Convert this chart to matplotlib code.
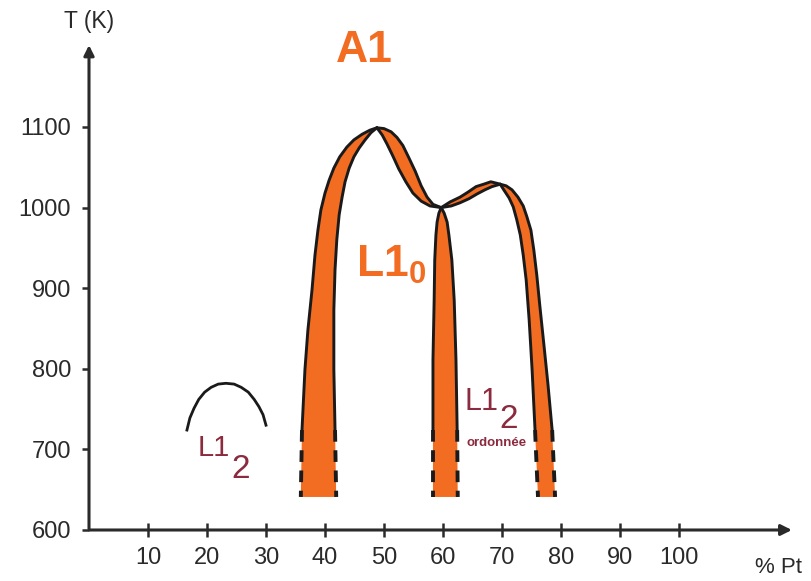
#!/usr/bin/env python3
"""
Order-disorder phase diagram sketch (T vs % Pt).
"""

import numpy as np
import matplotlib
matplotlib.use('Agg')
import matplotlib.pyplot as plt

# --- data (x = % Pt, T in K) ---
x_ticks = [10, 20, 30, 40, 50, 60, 70, 80, 90, 100]
y_ticks = [600, 700, 800, 900, 1000, 1100]

# left band, from the 1100 K maximum down
left_outer_x = [48.8, 47.6, 46.3, 44.9, 43.7, 42.5, 41.5, 40.7, 40.0, 39.3, 38.8, 38.3, 37.8, 37.1, 36.6, 36.1, 35.9]
left_outer_T = [1099, 1096, 1091, 1084, 1075, 1063, 1049, 1034, 1018, 997, 972, 941, 898, 848, 799, 724, 641]
left_inner_x = [48.8, 47.8, 46.8, 45.8, 44.9, 44.1, 43.4, 42.9, 42.4, 42.0, 41.7, 41.5, 41.5, 41.7, 41.9]
left_inner_T = [1099, 1093, 1084, 1074, 1063, 1049, 1032, 1013, 991, 960, 923, 873, 799, 724, 641]

# lens between the 1100 K maximum and the 1000 K junction
lens1_upper_x = [48.8, 50.0, 51.2, 52.2, 53.2, 54.2, 55.3, 56.3, 57.3, 58.3, 59.7]
lens1_upper_T = [1099, 1098, 1094, 1087, 1077, 1062, 1045, 1027, 1013, 1004, 1000]
lens1_lower_x = [48.8, 49.7, 50.5, 51.5, 52.5, 53.7, 54.9, 56.3, 57.8, 59.7]
lens1_lower_T = [1099, 1090, 1079, 1064, 1048, 1032, 1018, 1008, 1002, 1000]

# middle band below the junction
mid_T = [1000, 993, 982, 966, 935, 885, 811, 724, 641]
mid_left_x = [59.7, 59.3, 59.0, 58.8, 58.6, 58.5, 58.3, 58.3, 58.3]
mid_right_x = [59.7, 60.2, 60.7, 61.0, 61.5, 61.9, 62.2, 62.4, 62.5]

# lens between the junction and the second maximum
lens2_upper_x = [59.7, 61.2, 62.9, 64.2, 65.6, 66.9, 68.1, 69.2, 69.7]
lens2_upper_T = [1000, 1007, 1013, 1019, 1026, 1029, 1032, 1030, 1029]
lens2_lower_x = [59.7, 61.4, 62.9, 64.4, 65.8, 67.1, 68.3, 69.7]
lens2_lower_T = [1000, 1002, 1006, 1011, 1017, 1022, 1026, 1029]

# right band, from the second maximum down
right_outer_x = [69.7, 70.7, 71.7, 72.7, 73.6, 74.2, 74.9, 75.4, 75.9, 76.4, 77.1, 77.8, 78.5, 79.0]
right_outer_T = [1029, 1027, 1022, 1013, 1002, 989, 972, 947, 916, 879, 830, 780, 724, 641]
right_inner_x = [69.7, 70.3, 71.2, 71.9, 72.5, 73.1, 73.6, 74.1, 74.6, 75.1, 75.6, 76.1]
right_inner_T = [1029, 1022, 1012, 1001, 985, 966, 941, 910, 861, 799, 724, 641]

# small L1_2 dome on the Fe-rich side
dome_x = [16.6, 17.1, 17.8, 18.6, 19.6, 20.7, 21.9, 23.2, 24.6, 25.8, 27.0, 28.0, 28.8, 29.5, 30.0]
dome_T = [724, 739, 751, 762, 771, 777, 781, 782, 781, 777, 771, 762, 753, 743, 730]

SOLID_FROM = 724  # band edges are dashed below this temperature

ORANGE = '#F26C22'
MAROON = '#8C2A3E'
INK = '#1a1a1a'
AXIS = '#2a2a2a'

plt.rcParams['font.family'] = ['Liberation Sans', 'DejaVu Sans']
plt.rcParams['mathtext.default'] = 'regular'

fig = plt.figure(figsize=(8.12, 5.81), dpi=100)
ax = fig.add_axes([89 / 812, 51 / 581, 708 / 812, 491.7 / 581])
ax.set_xlim(0, 120)
ax.set_ylim(600, 1210)


def patch(ax_, xa, ta, xb, tb):
    """Orange area enclosed by two curves that share their first point."""
    xs = np.concatenate([xa, xb[::-1]])
    ts = np.concatenate([ta, tb[::-1]])
    ax_.fill(xs, ts, color=ORANGE, lw=0, zorder=2)


def edge(ax_, xs, ts):
    """Black edge: solid above SOLID_FROM, dashed below."""
    xs = np.asarray(xs)
    ts = np.asarray(ts)
    top = ts >= SOLID_FROM
    low = ts <= SOLID_FROM
    ax_.plot(xs[top], ts[top], color=INK, lw=2.1, solid_joinstyle='round',
             solid_capstyle='round', zorder=3)
    ax_.plot(xs[low], ts[low], color=INK, lw=2.8, linestyle=(0, (3.0, 2.2)), zorder=3)


patch(ax, left_outer_x, left_outer_T, left_inner_x, left_inner_T)
patch(ax, lens1_upper_x, lens1_upper_T, lens1_lower_x, lens1_lower_T)
patch(ax, mid_left_x, mid_T, mid_right_x, mid_T)
patch(ax, lens2_upper_x, lens2_upper_T, lens2_lower_x, lens2_lower_T)
patch(ax, right_outer_x, right_outer_T, right_inner_x, right_inner_T)

for xs, ts in [(left_outer_x, left_outer_T), (left_inner_x, left_inner_T),
               (lens1_upper_x, lens1_upper_T), (lens1_lower_x, lens1_lower_T),
               (mid_left_x, mid_T), (mid_right_x, mid_T),
               (lens2_upper_x, lens2_upper_T), (lens2_lower_x, lens2_lower_T),
               (right_outer_x, right_outer_T), (right_inner_x, right_inner_T)]:
    edge(ax, xs, ts)

ax.plot(dome_x, dome_T, color=INK, lw=2.0, solid_joinstyle='round', zorder=3)

# axes drawn as arrows
for s in ax.spines.values():
    s.set_visible(False)
ax.annotate('', xy=(119.6, 600), xytext=(-0.4, 600),
            arrowprops=dict(arrowstyle='-|>', lw=2.2, color=AXIS, mutation_scale=16),
            annotation_clip=False)
ax.annotate('', xy=(0, 1205), xytext=(0, 598),
            arrowprops=dict(arrowstyle='-|>', lw=2.2, color=AXIS, mutation_scale=15),
            annotation_clip=False)

ax.set_xticks(x_ticks)
ax.set_yticks(y_ticks)
ax.tick_params(axis='x', direction='inout', length=10, width=1.8, pad=7,
               labelsize=17, colors=AXIS)
ax.tick_params(axis='y', direction='out', length=5, width=1.8, pad=8,
               labelsize=17, colors=AXIS)

ax.text(0.0, 1231, 'T (K)', ha='center', va='center', fontsize=16.5, color=AXIS,
        clip_on=False)
ax.text(116.8, 553, '% Pt', ha='center', va='center', fontsize=16, color=AXIS,
        clip_on=False)

# phase labels
ax.text(46.6, 1195, 'A1', ha='center', va='center', fontsize=32,
        fontweight='bold', color=ORANGE, clip_on=False)
ax.text(45.2, 914, 'L1$_0$', ha='left', va='baseline', fontsize=32,
        fontweight='bold', color=ORANGE)

ax.text(18.4, 692, 'L1', ha='left', va='baseline', fontsize=21, color=MAROON)
ax.text(24.1, 665, '2', ha='left', va='baseline', fontsize=24, color=MAROON)
ax.text(63.7, 749, 'L1', ha='left', va='baseline', fontsize=22, color=MAROON)
ax.text(69.6, 727, '2', ha='left', va='baseline', fontsize=24, color=MAROON)
ax.text(69.0, 708, 'ordonnée', ha='center', va='center', fontsize=9.5,
        fontweight='bold', color=MAROON)

fig.savefig('out.png', dpi=100)
